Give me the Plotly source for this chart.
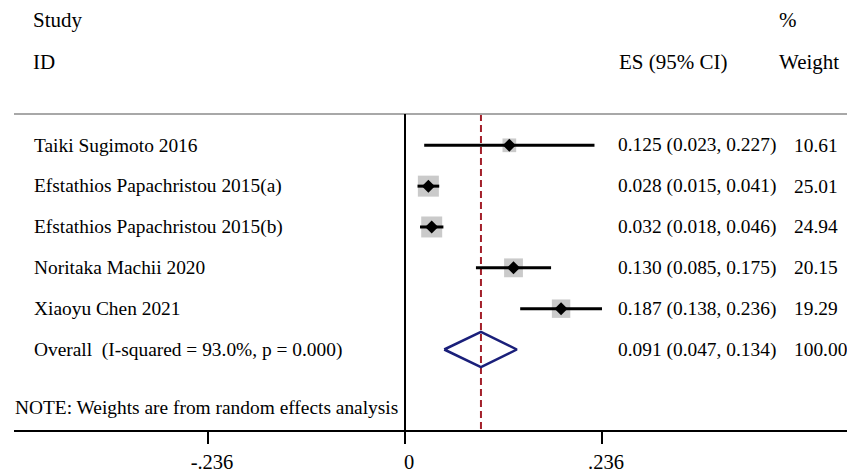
import plotly.graph_objects as go
import math

studies = ["Taiki Sugimoto 2016", "Efstathios Papachristou 2015(a)",
           "Efstathios Papachristou 2015(b)", "Noritaka Machii 2020", "Xiaoyu Chen 2021"]
es = [0.125, 0.028, 0.032, 0.130, 0.187]
lo = [0.023, 0.015, 0.018, 0.085, 0.138]
hi = [0.227, 0.041, 0.046, 0.175, 0.236]
weights = [10.61, 25.01, 24.94, 20.15, 19.29]

overall_label = "Overall  (I-squared = 93.0%, p = 0.000)"
overall_es, overall_lo, overall_hi, overall_w = 0.091, 0.047, 0.134, 100.00
note = "NOTE: Weights are from random effects analysis"
tick_vals = [-0.236, 0, 0.236]
tick_text = ["-.236", "0", ".236"]

W, H = 847, 473
FONT = "Liberation Serif"
FS = 19.4
FS_HEAD = 21

# layout helpers (pixel -> paper)
L_PX, B_PX = 14, 438
def px_x(px):
    return (px - L_PX) / (W - L_PX)
def px_y(py):
    return 1 - py / B_PX

# row mapping: pixel = 148 + 41.6*row
ROW0, ROWH = 148, 41.6
y_top = (0 - ROW0) / ROWH
y_bot = (B_PX - ROW0) / ROWH
x_left = (L_PX - 405) / 834.7
x_right = (W - 405) / 834.7

rows = list(range(len(studies)))
orow = len(studies)

fig = go.Figure()

# CI lines
cx, cy = [], []
for r, a, b in zip(rows, lo, hi):
    cx += [a, b, None]
    cy += [r, r, None]

# weight boxes
sizes = [21 * math.sqrt(w / 25.01) for w in weights]
fig.add_trace(go.Scatter(x=es, y=rows, mode="markers",
                         marker=dict(symbol="square", size=sizes, color="#b3b3b3", line=dict(width=0)),
                         showlegend=False))
fig.add_trace(go.Scatter(x=cx, y=cy, mode="lines", line=dict(color="black", width=3),
                         hoverinfo="skip", showlegend=False))
# point estimates
fig.add_trace(go.Scatter(x=es, y=rows, mode="markers",
                         marker=dict(symbol="diamond", size=10, color="black"),
                         showlegend=False))

# overall diamond
h = 18 / ROWH
fig.add_trace(go.Scatter(x=[overall_lo, overall_es, overall_hi, overall_es, overall_lo],
                         y=[orow, orow - h, orow, orow + h, orow],
                         mode="lines", line=dict(color="#1a1f7a", width=2.5),
                         showlegend=False))

shapes = []
top_row = (116 - ROW0) / ROWH
# top gray line
shapes.append(dict(type="line", xref="paper", yref="y", x0=0, x1=1, y0=top_row, y1=top_row,
                   line=dict(color="#a8a8a8", width=2)))
# zero line
shapes.append(dict(type="line", xref="x", yref="y", x0=0, x1=0, y0=top_row, y1=y_bot,
                   line=dict(color="black", width=2)))
# overall dashed line
shapes.append(dict(type="line", xref="x", yref="y", x0=overall_es, x1=overall_es, y0=top_row, y1=y_bot,
                   line=dict(color="#a3202a", width=2, dash="7px,4px"), layer="below"))

ann = []
def txt(x, y, s, yref="y", size=FS):
    ann.append(dict(x=x, y=y, xref="paper", yref=yref, text=s, showarrow=False,
                    xanchor="left", yanchor="middle", font=dict(family=FONT, size=size, color="black")))

txt(px_x(31), px_y(20), "Study", "paper", FS_HEAD)
txt(px_x(31), px_y(63), "ID", "paper", FS_HEAD)
txt(px_x(777), px_y(20), "%", "paper", FS_HEAD)
txt(px_x(617), px_y(63), "ES (95% CI)", "paper", FS_HEAD)
txt(px_x(777), px_y(63), "Weight", "paper", FS_HEAD)

for r, s, e, a, b, w in zip(rows, studies, es, lo, hi, weights):
    txt(px_x(32), r, s)
    txt(px_x(616), r, f"{e:.3f} ({a:.3f}, {b:.3f})")
    txt(px_x(792), r, f"{w:.2f}")
txt(px_x(32), orow, overall_label)
txt(px_x(616), orow, f"{overall_es:.3f} ({overall_lo:.3f}, {overall_hi:.3f})")
txt(px_x(792), orow, f"{overall_w:.2f}")
txt(px_x(13), (415 - ROW0) / ROWH, note)

fig.update_layout(
    width=W, height=H,
    margin=dict(l=L_PX, r=0, t=0, b=H - B_PX, pad=0),
    plot_bgcolor="white", paper_bgcolor="white",
    shapes=shapes, annotations=ann,
    xaxis=dict(range=[x_left, x_right], showgrid=False, zeroline=False,
               showline=True, linecolor="black", linewidth=2,
               tickvals=tick_vals, ticktext=tick_text, ticks="outside", ticklen=12,
               tickwidth=2, tickcolor="black", ticklabelshift=4,
               tickfont=dict(family=FONT, size=20.5, color="black")),
    yaxis=dict(range=[y_bot, y_top], visible=False, showgrid=False, zeroline=False),
)

fig.write_html("out.html", config={"displayModeBar": False},
               post_script="document.body.style.margin='0px';document.body.style.overflow='hidden';")
